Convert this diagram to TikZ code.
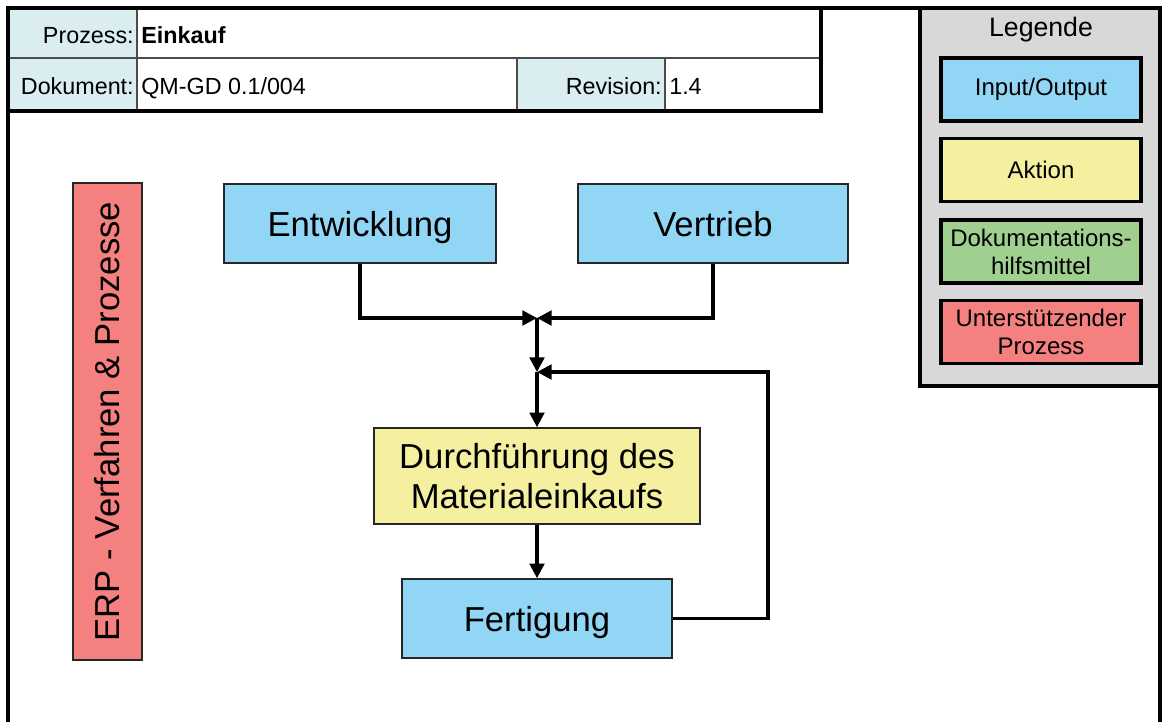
\documentclass[tikz,border=0pt]{standalone}
\usepackage{fontspec}
\setmainfont{Liberation Sans}
\usetikzlibrary{arrows.meta}
\newlength\px
\setlength\px{0.75pt}
% colours of the process chart
\definecolor{ioColor}{RGB}{146,214,245}
\definecolor{actColor}{RGB}{245,240,160}
\definecolor{docColor}{RGB}{160,208,144}
\definecolor{supColor}{RGB}{244,128,128}
\definecolor{headColor}{RGB}{218,238,242}
\definecolor{legColor}{RGB}{216,216,216}
\newcommand{\bigFont}{\fontsize{26}{30}\selectfont}
\newcommand{\headFont}{\fontsize{17.5}{20}\selectfont}
\newcommand{\legFont}{\fontsize{18}{21}\selectfont}
\tikzset{
  chartbox/.style={draw=black!85, line width=1.2pt, inner sep=0pt, align=center, font=\bigFont},
  iobox/.style={chartbox, fill=ioColor, text depth=0pt},
  actbox/.style={chartbox, fill=actColor},
  legbox/.style={draw=black, line width=2.4pt, inner sep=0pt, align=center, font=\legFont,
    minimum width=200\px, minimum height=63\px},
  conn/.style={line width=2.4pt, -{Triangle[length=11pt,width=11pt]}},
  headtext/.style={inner sep=0pt, font=\headFont},
}
\begin{document}
\begin{tikzpicture}[x=0.75pt, y=-0.75pt, line join=miter]
\useasboundingbox (0,0) rectangle (1162,722);
% Header table
\fill[headColor] (8,8) rectangle (137,111);
\fill[headColor] (517,58) rectangle (665,111);
\begin{scope}[draw=black!70, line width=0.9pt]
  \draw (8,58) -- (821,58);
  \draw (137,8) -- (137,111);
  \draw (517,58) -- (517,111);
  \draw (665,58) -- (665,111);
\end{scope}
\node[headtext, anchor=base east] (lblProz) at (134,43) {Prozess:};
\node[headtext, anchor=base west] (valProz) at (141,43) {\bfseries Einkauf};
\node[headtext, anchor=base east] (lblDok) at (134,94) {Dokument:};
\node[headtext, anchor=base west] (valDok) at (141,94) {QM-GD 0.1/004};
\node[headtext, anchor=base east] (lblRev) at (662,94) {Revision:};
\node[headtext, anchor=base west] (valRev) at (669,94) {1.4};
% Legend
\fill[legColor] (920,8) rectangle (1160,386);
\node[inner sep=0pt, font=\fontsize{20}{24}\selectfont] (legTitle) at (1041,30) {Legende};
\node[legbox, fill=ioColor] (legIO) at (1041,89.5) {Input/Output};
\node[legbox, fill=actColor] (legAct) at (1041,170) {Aktion};
\node[legbox, fill=docColor] (legDoc) at (1041,251.5) {Dokumentations-\\hilfsmittel};
\node[legbox, fill=supColor] (legSup) at (1041,332) {Unterstützender\\Prozess};
% Frame
\begin{scope}[line width=2.6pt]
  \draw (8,722) -- (8,8) -- (1160,8) -- (1160,722);
  \draw (8,111) -- (821,111) -- (821,8);
  \draw (920,8) -- (920,386) -- (1160,386);
\end{scope}
% Supporting process
\node[chartbox, fill=supColor, rotate=90, minimum width=477\px, minimum height=69\px]
  (erp) at (107.5,421.5) {ERP - Verfahren \& Prozesse};
% Flow boxes
\node[iobox, minimum width=272\px, minimum height=79\px] (entw) at (360,223.5) {Entwicklung};
\node[iobox, minimum width=270\px, minimum height=79\px] (vert) at (713,223.5) {Vertrieb};
\node[actbox, minimum width=326\px, minimum height=96\px] (durch) at (537,476) {Durchführung des\\Materialeinkaufs};
\node[iobox, minimum width=270\px, minimum height=79\px] (fert) at (537,618.5) {Fertigung};
% Connectors
\coordinate (j1) at (537,318);
\coordinate (j2) at (537,372);
\coordinate (fb) at (768,372);
\draw[conn] (entw.south) |- (j1);
\draw[conn] (vert.south) |- (j1);
\draw[conn] (j1) -- (j2);
\draw[conn] (fert.east) -| (fb) -- (j2);
\draw[conn] (j2) -- (durch.north);
\draw[conn] (durch.south) -- (fert.north);
\end{tikzpicture}
\end{document}
